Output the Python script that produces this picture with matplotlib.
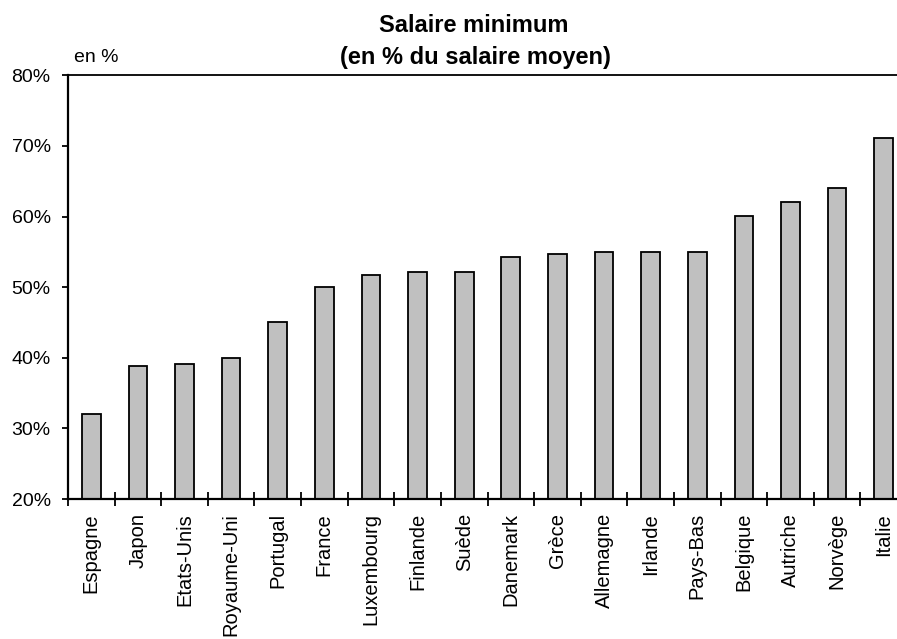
import matplotlib.pyplot as plt
from matplotlib.ticker import FixedLocator, FuncFormatter

plt.rcParams['font.family'] = ['Liberation Sans', 'DejaVu Sans']

# Data
pays = ['Espagne', 'Japon', 'Etats-Unis', 'Royaume-Uni', 'Portugal', 'France',
        'Luxembourg', 'Finlande', 'Suède', 'Danemark', 'Grèce', 'Allemagne',
        'Irlande', 'Pays-Bas', 'Belgique', 'Autriche', 'Norvège', 'Italie']
salaire_min = [32.0, 38.8, 39.1, 40.0, 45.0, 50.0,
               51.7, 52.2, 52.2, 54.2, 54.7, 55.0,
               55.0, 55.0, 60.1, 62.1, 64.0, 71.1]
y_ticks = [20, 30, 40, 50, 60, 70, 80]

W, H = 897, 639
fig = plt.figure(figsize=(W / 100, H / 100), dpi=100)
ax = fig.add_axes([68 / W, 1 - 499 / H, (907 - 68) / W, (499 - 75.3) / H])

x = range(len(pays))
ax.bar(x, salaire_min, width=0.4, color='#c0c0c0', edgecolor='black',
       linewidth=1.3, zorder=2)

ax.set_xlim(-0.5, len(pays) - 0.5)
ax.set_ylim(20, 80)

ax.set_yticks(y_ticks)
ax.yaxis.set_major_formatter(FuncFormatter(lambda v, p: f'{v:.0f}%'))
ax.tick_params(axis='y', direction='out', length=4.5, width=1.3,
               labelsize=14, pad=8)

# category labels at bar centres, tick marks between categories
ax.set_xticks(list(x))
ax.set_xticklabels(pays, rotation=90, fontsize=14.5)
ax.tick_params(axis='x', which='major', length=0, pad=10)
ax.xaxis.set_minor_locator(FixedLocator([i - 0.5 for i in range(len(pays) + 1)]))
ax.tick_params(axis='x', which='minor', direction='inout', length=10.5,
               width=1.3)

ax.spines['right'].set_visible(False)
for s in ['left', 'bottom']:
    ax.spines[s].set_linewidth(1.6)
ax.spines['top'].set_linewidth(1.3)

fig.text(474 / W, 1 - 32 / H, 'Salaire minimum', ha='center', va='baseline',
         fontsize=17, fontweight='bold')
fig.text(475 / W, 1 - 64 / H, '(en % du salaire moyen)', ha='center',
         va='baseline', fontsize=17, fontweight='bold')
fig.text(74 / W, 1 - 62 / H, 'en %', ha='left', va='baseline', fontsize=14)

fig.savefig('out.png', dpi=100)
